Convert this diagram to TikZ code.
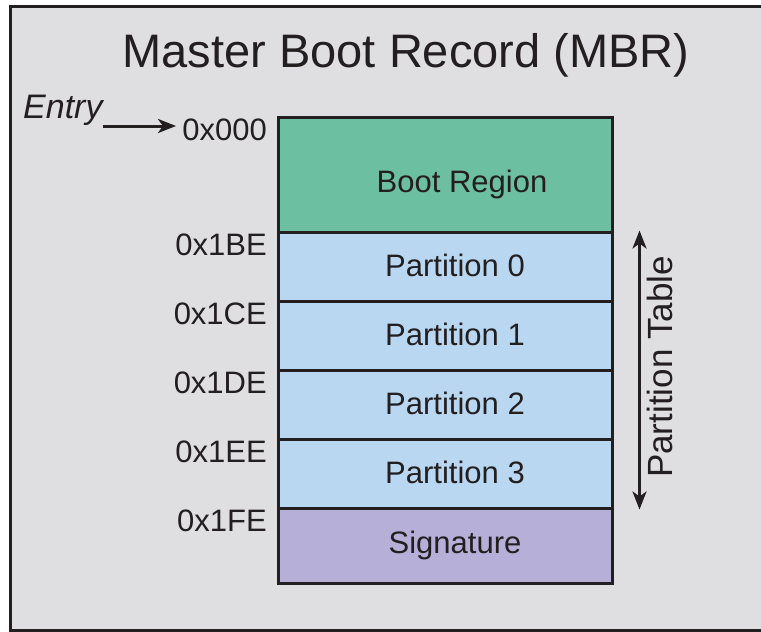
\documentclass[tikz,border=0pt]{standalone}
\usepackage{fontspec}
\setmainfont{Liberation Sans}
\usepackage{xcolor}
\definecolor{bootgreen}{RGB}{109,191,162}
\definecolor{partblue}{RGB}{185,215,240}
\definecolor{siglilac}{RGB}{182,176,216}
\definecolor{panelgray}{RGB}{223,223,225}
\definecolor{inkgray}{RGB}{35,31,32}
\usetikzlibrary{arrows.meta}
\tikzset{
  cell/.style={draw=inkgray,line width=3pt,minimum width=334pt,inner sep=0pt},
  celltext/.style={font=\fontsize{31}{34}\selectfont,text=inkgray,inner sep=0pt,anchor=base},
  addr/.style={font=\fontsize{31}{34}\selectfont,text=inkgray,inner sep=0pt,anchor=base east},
  pointer/.style={line width=3pt,draw=inkgray,arrows={-Stealth[length=18pt,width=14pt,inset=5pt]}},
  span/.style={line width=3pt,draw=inkgray,arrows={Stealth[length=18pt,width=14pt,inset=5pt]-Stealth[length=18pt,width=14pt,inset=5pt]}}
}

\begin{document}
\begin{tikzpicture}[x=1pt,y=-1pt]
    \useasboundingbox (0,0) rectangle (761,632);
    \fill[panelgray] (10,6) rectangle (761,630);
    \draw[line width=3pt,inkgray] (761,6) -- (10,6) -- (10,630) -- (761,630);
    \node[anchor=base,font=\fontsize{47}{52}\selectfont,text=inkgray,inner sep=0pt] (title) at (406,67) {Master Boot Record (MBR)};
    % the record itself
    \node[cell,fill=bootgreen,minimum height=115pt] (boot) at (445,174.5) {};
    \node[celltext] (boottext) at (462,192) {Boot Region};
    \foreach \i in {0,...,3} {
        \node[cell,fill=partblue,minimum height=69pt] (p\i) at (445,{266.5+69*\i}) {};
        \node[celltext] (p\i text) at (455,{276+69*\i}) {Partition \i};
    }
    \node[cell,fill=siglilac,minimum height=75pt] (sig) at (445,545.5) {};
    \node[celltext] (sigtext) at (455,553) {Signature};
    % offsets
    \foreach \a/\y/\n in {0x000/117/0,0x1BE/232/1,0x1CE/301/2,0x1DE/370/3,0x1EE/439/4,0x1FE/508/5}
        \node[addr] (addr\n) at (267,{\y+23.5}) {\a};
    \node[anchor=base west,font=\fontsize{34}{38}\selectfont\itshape,text=inkgray,inner sep=0pt] (entry) at (23,118) {Entry};
    \coordinate (entrytip) at (176,126);
    \draw[pointer] (entry.south east |- entrytip) -- (entrytip);
    \draw[span] ([xshift=26pt]p0.north east) -- ([xshift=26pt]p3.south east);
    \node[rotate=90,font=\fontsize{35}{38}\selectfont,text=inkgray,inner sep=0pt] (ptable) at (660,367) {Partition Table};
\end{tikzpicture}
\end{document}
